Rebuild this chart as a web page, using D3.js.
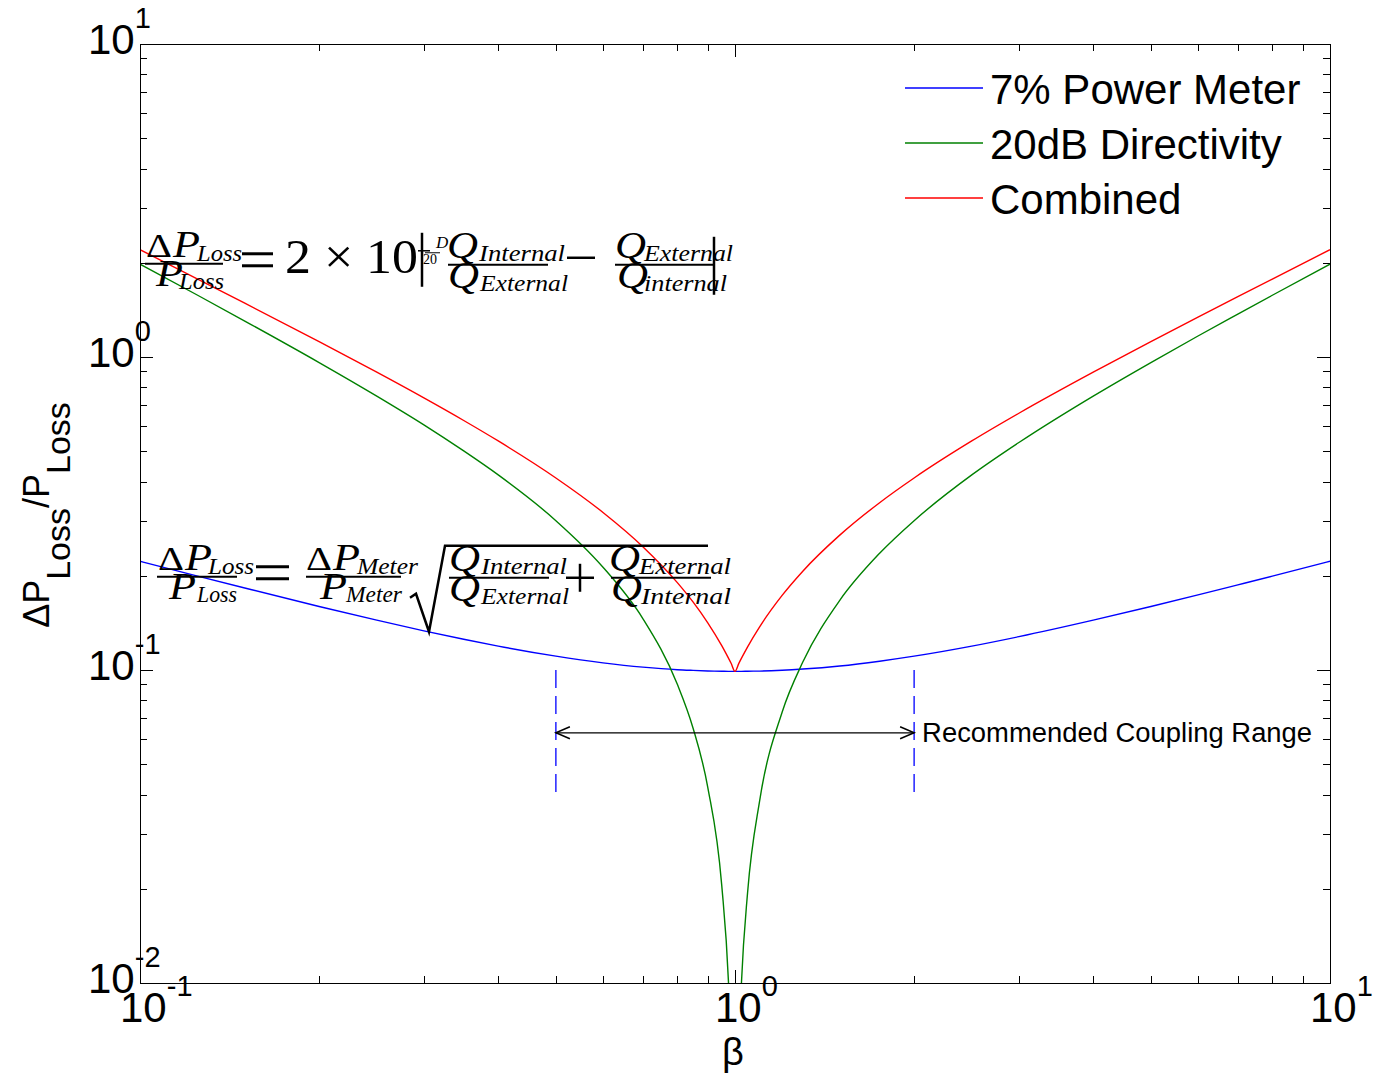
<!DOCTYPE html>
<html>
<head>
<meta charset="utf-8">
<script src="https://cdn.jsdelivr.net/npm/d3@7"></script>
<style>
  body { margin: 0; background: #fff; }
</style>
</head>
<body>
<script>
// values (log-log axes)
const beta = [0.1, 0.125, 0.15, 0.2, 0.25, 0.3, 0.35, 0.4, 0.5, 0.6, 0.7, 0.8, 0.85, 0.9, 0.95, 0.975, 0.985, 1.0,
              1.015, 1.025, 1.05, 1.1, 1.2, 1.3, 1.5, 1.75, 2, 2.5, 3, 4, 5, 6, 7, 8, 10];
const powerMeter = [0.2225, 0.1995, 0.1828, 0.1596, 0.1443, 0.1334, 0.1254, 0.1192, 0.1107, 0.1054, 0.1021, 0.1002,
                    0.0997, 0.0993, 0.0991, 0.0990, 0.0990, 0.0990, 0.0990, 0.0990, 0.0991, 0.0992, 0.0998, 0.1007,
                    0.1030, 0.1067, 0.1107, 0.1192, 0.1278, 0.1443, 0.1596, 0.1738, 0.1871, 0.1995, 0.2225];
const directivity = [1.98, 1.575, 1.303, 0.96, 0.75, 0.607, 0.501, 0.42, 0.30, 0.213, 0.146, 0.090, 0.0653, 0.0422,
                     0.0205, 0.0101, 0.0060, null, 0.0060, 0.0099, 0.0195, 0.0382, 0.0733, 0.106, 0.167, 0.236, 0.30,
                     0.42, 0.533, 0.75, 0.96, 1.167, 1.371, 1.575, 1.98];
const combined = [2.2025, 1.7745, 1.4861, 1.1196, 0.8943, 0.7401, 0.6268, 0.5392, 0.4107, 0.3187, 0.2478, 0.1902,
                  0.1650, 0.1415, 0.1196, 0.1091, 0.1051, 0.0990, 0.1050, 0.1089, 0.1186, 0.1374, 0.1731, 0.2069,
                  0.2697, 0.3424, 0.4107, 0.5392, 0.6611, 0.8943, 1.1196, 1.3405, 1.5585, 1.7745, 2.2025];
const seriesNames = ["7% Power Meter", "20dB Directivity", "Combined"];
const seriesColors = ["#0000ff", "#008000", "#ff0000"];

// recommended coupling range annotation
const rangeBeta = [0.5, 2];
const rangeMarkY = [0.04, 0.1];
const rangeArrowY = 0.063;
const rangeLabel = "Recommended Coupling Range";

const xDecades = [0.1, 1, 10];
const yDecades = [0.01, 0.1, 1, 10];

const width = 1381, height = 1074;
const plot = { left: 140, right: 1330, top: 44, bottom: 983 };

const svg = d3.select("body").append("svg")
    .attr("width", width)
    .attr("height", height)
    .style("font-family", "'Liberation Sans', Arial, sans-serif");

const x = d3.scaleLog().domain([0.1, 10]).range([plot.left, plot.right]);
const y = d3.scaleLog().domain([0.01, 10]).range([plot.bottom, plot.top]);

svg.append("defs").append("clipPath").attr("id", "clip")
    .append("rect")
    .attr("x", plot.left).attr("y", plot.top)
    .attr("width", plot.right - plot.left).attr("height", plot.bottom - plot.top);

// ticks, inward on all four sides
const isMajor = v => Math.abs(Math.log10(v) - Math.round(Math.log10(v))) < 1e-9;
const tickG = svg.append("g").attr("stroke", "#000").attr("stroke-width", 1);
x.ticks().forEach(v => {
    const len = isMajor(v) ? 13 : 7;
    const px = Math.round(x(v)) + 0.5;
    tickG.append("line").attr("x1", px).attr("x2", px).attr("y1", plot.bottom).attr("y2", plot.bottom - len);
    tickG.append("line").attr("x1", px).attr("x2", px).attr("y1", plot.top).attr("y2", plot.top + len);
});
y.ticks().forEach(v => {
    const len = isMajor(v) ? 13 : 7;
    const py = Math.round(y(v)) + 0.5;
    tickG.append("line").attr("y1", py).attr("y2", py).attr("x1", plot.left).attr("x2", plot.left + len);
    tickG.append("line").attr("y1", py).attr("y2", py).attr("x1", plot.right).attr("x2", plot.right - len);
});

// tick labels 10^n
function powLabel(px, py, v) {
    const t = svg.append("text").attr("x", px).attr("y", py)
        .attr("font-size", 42).attr("fill", "#000").text("10");
    t.append("tspan").attr("dy", -26).attr("font-size", 29).text(String(Math.round(Math.log10(v))));
}
xDecades.forEach(v => powLabel(x(v) - 20, 1022, v));
yDecades.forEach(v => powLabel(88, y(v) + 10, v));

// axis labels
svg.append("text")
    .attr("x", 733).attr("y", 1065)
    .attr("text-anchor", "middle")
    .attr("font-size", 38)
    .text("β");

const yl = svg.append("text")
    .attr("transform", "translate(49,515) rotate(-90)")
    .attr("text-anchor", "middle")
    .attr("font-size", 36);
yl.append("tspan").text("ΔP");
yl.append("tspan").attr("dy", 21).attr("font-size", 34).text("Loss");
yl.append("tspan").attr("dy", -21).text("/P");
yl.append("tspan").attr("dy", 21).attr("font-size", 34).text("Loss");

// curves
const series = [powerMeter, directivity, combined];
const line = d3.line()
    .defined(d => d[1] != null)
    .x(d => x(d[0]))
    .y(d => y(d[1]))
    .curve(d3.curveMonotoneX);

const curves = svg.append("g").attr("clip-path", "url(#clip)");
series.forEach((vals, i) => {
    curves.append("path")
        .datum(beta.map((b, j) => [b, vals[j]]))
        .attr("fill", "none")
        .attr("stroke", seriesColors[i])
        .attr("stroke-width", 1.4)
        .attr("d", line);
});

// recommended range markers
rangeBeta.forEach(b => {
    svg.append("line")
        .attr("x1", x(b)).attr("x2", x(b))
        .attr("y1", y(rangeMarkY[1])).attr("y2", y(rangeMarkY[0]))
        .attr("stroke", "#0000ff").attr("stroke-width", 1.3)
        .attr("stroke-dasharray", "18,8");
});
const ay = y(rangeArrowY);
svg.append("line")
    .attr("x1", x(rangeBeta[0])).attr("x2", x(rangeBeta[1]))
    .attr("y1", ay).attr("y2", ay)
    .attr("stroke", "#000").attr("stroke-width", 1.3);
[[x(rangeBeta[0]), 1], [x(rangeBeta[1]), -1]].forEach(([px, s]) => {
    svg.append("path")
        .attr("d", `M${px + s * 14},${ay - 6}L${px},${ay}L${px + s * 14},${ay + 6}`)
        .attr("fill", "none").attr("stroke", "#000").attr("stroke-width", 1.5);
});
svg.append("text")
    .attr("x", x(rangeBeta[1]) + 8).attr("y", ay + 9)
    .attr("font-size", 27)
    .attr("textLength", 390)
    .attr("lengthAdjust", "spacingAndGlyphs")
    .text(rangeLabel);

// legend
const legend = svg.append("g");
seriesNames.forEach((name, i) => {
    const ly = 88 + i * 55;
    legend.append("line")
        .attr("x1", 905).attr("x2", 983).attr("y1", ly).attr("y2", ly)
        .attr("stroke", seriesColors[i]).attr("stroke-width", 1.3);
    legend.append("text")
        .attr("x", 990).attr("y", ly + 16)
        .attr("font-size", 42)
        .text(name);
});

// equation annotations (TeX-like)
const eqG = svg.append("g").attr("fill", "#000");
function put(s, px, py, size, italic, len) {
    const t = eqG.append("text").attr("x", px).attr("y", py)
        .attr("font-family", "'Liberation Serif', 'Times New Roman', serif")
        .attr("font-size", size)
        .attr("font-style", italic ? "italic" : "normal")
        .text(s);
    if (len) t.attr("textLength", len).attr("lengthAdjust", "spacingAndGlyphs");
    return t;
}
function rule(x1, y1, x2, y2, w) {
    eqG.append("line").attr("x1", x1).attr("y1", y1).attr("x2", x2).attr("y2", y2)
        .attr("stroke", "#000").attr("stroke-width", w || 2);
}

// equation 1, placed at (0.1, 2)
{
    const ox = x(0.1), oy = y(2) + 1; // fraction bar line
    put("Δ", ox + 6, oy - 7, 34, false, 26);
    put("P", ox + 33, oy - 7, 37, true, 27);
    put("Loss", ox + 57, oy - 3, 24, true, 45);
    rule(ox + 5, oy, ox + 83, oy);
    put("P", ox + 16, oy + 22, 37, true, 27);
    put("Loss", ox + 39, oy + 25, 24, true, 45);
    rule(ox + 102, oy - 10, ox + 133, oy - 10, 3);
    rule(ox + 102, oy + 2, ox + 133, oy + 2, 3);
    put("2 × 10", ox + 145, oy + 9, 48, false, 133);
    rule(ox + 282, oy - 31, ox + 282, oy + 23, 2.5);
    rule(ox + 278, oy - 13, ox + 290, oy - 13, 1.5);
    put("D", ox + 296, oy - 16, 17, true);
    rule(ox + 285, oy - 11, ox + 300, oy - 11, 1);
    put("20", ox + 283, oy, 14, false);
    put("Q", ox + 307, oy - 6, 38, true, 31);
    put("Internal", ox + 339, oy - 3, 24, true, 86);
    rule(ox + 308, oy + 1, ox + 408, oy + 1);
    put("Q", ox + 308, oy + 24, 38, true, 31);
    put("External", ox + 340, oy + 27, 24, true, 88);
    rule(ox + 427, oy - 6, ox + 455, oy - 6, 2.5);
    put("Q", ox + 475, oy - 6, 38, true, 31);
    put("External", ox + 504, oy - 3, 24, true, 89);
    rule(ox + 475, oy + 1, ox + 573, oy + 1);
    put("Q", ox + 477, oy + 24, 38, true, 31);
    put("internal", ox + 504, oy + 27, 24, true, 83);
    rule(ox + 574, oy - 27, ox + 574, oy + 31, 2.5);
}

// equation 2, placed at (0.1, 0.2)
{
    const ox = x(0.1), oy = y(0.2) + 1;
    put("Δ", ox + 18, oy - 7, 34, false, 26);
    put("P", ox + 45, oy - 7, 37, true, 27);
    put("Loss", ox + 68, oy - 3, 24, true, 46);
    rule(ox + 17, oy, ox + 97, oy);
    put("P", ox + 29, oy + 22, 37, true, 27);
    put("Loss", ox + 57, oy + 25, 24, true, 40);
    rule(ox + 116, oy - 10, ox + 149, oy - 10, 3);
    rule(ox + 116, oy + 2, ox + 149, oy + 2, 3);
    put("Δ", ox + 166, oy - 7, 34, false, 26);
    put("P", ox + 193, oy - 7, 37, true, 27);
    put("Meter", ox + 217, oy - 3, 24, true, 61);
    rule(ox + 166, oy, ox + 261, oy);
    put("P", ox + 180, oy + 22, 37, true, 27);
    put("Meter", ox + 206, oy + 25, 24, true, 56);
    eqG.append("path")
        .attr("d", `M${ox + 270},${oy + 21}L${ox + 276},${oy + 17}L${ox + 289},${oy + 55}L${ox + 305},${oy - 31}L${ox + 568},${oy - 31}`)
        .attr("fill", "none").attr("stroke", "#000").attr("stroke-width", 2.5);
    put("Q", ox + 309, oy - 6, 38, true, 31);
    put("Internal", ox + 341, oy - 3, 24, true, 86);
    rule(ox + 309, oy + 1, ox + 409, oy + 1);
    put("Q", ox + 309, oy + 24, 38, true, 31);
    put("External", ox + 341, oy + 27, 24, true, 88);
    rule(ox + 426, oy + 1, ox + 454, oy + 1, 2.5);
    rule(ox + 440, oy - 13, ox + 440, oy + 15, 2.5);
    put("Q", ox + 469, oy - 6, 38, true, 31);
    put("External", ox + 499, oy - 3, 24, true, 92);
    rule(ox + 471, oy + 1, ox + 571, oy + 1);
    put("Q", ox + 471, oy + 24, 38, true, 31);
    put("Internal", ox + 501, oy + 27, 24, true, 90);
}

// axes box
svg.append("rect")
    .attr("x", plot.left + 0.5).attr("y", plot.top + 0.5)
    .attr("width", plot.right - plot.left).attr("height", plot.bottom - plot.top)
    .attr("fill", "none").attr("stroke", "#000").attr("stroke-width", 1);
</script>
</body>
</html>
